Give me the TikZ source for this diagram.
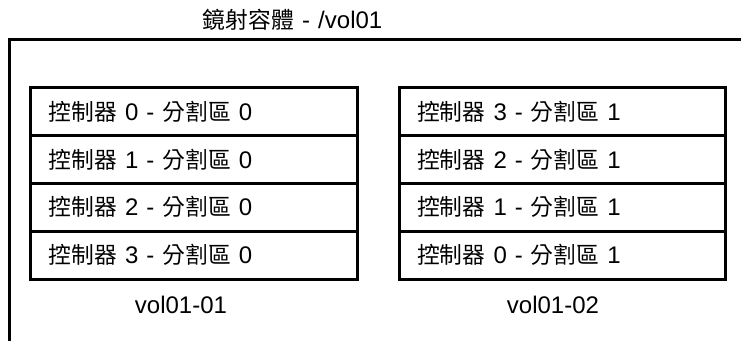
\documentclass[tikz,border=0pt]{standalone}
\usepackage{fontspec}
\setmainfont{Liberation Sans}
\newfontfamily\cjk[Scale=0.95]{Noto Sans CJK TC}
\protected\def\myfont{\fontsize{18}{21}\selectfont\spaceskip=0.34em plus 0.1em\relax}
\begin{document}
\begin{tikzpicture}[x=0.75pt,y=-0.75pt,
  txt/.style={font=\myfont},
  rowbox/.style={draw,line width=2.25pt,rectangle,outer sep=0pt,
    minimum width=245pt,minimum height=35.9pt,text width=218pt,
    inner xsep=13.5pt,inner ysep=0pt,align=left,txt},
  lbl/.style={inner sep=0pt,txt},
  frame/.style={line width=2.25pt,line join=miter}]
\useasboundingbox (0,0) rectangle (741,341);
\fill[white] (0,0) rectangle (741,341);
\coordinate (fa) at (9,345);
\coordinate (fb) at (9,40);
\coordinate (fc) at (745,40);
\draw[frame] (fa) -- (fb) -- (fc);
\node[lbl] (title) at (292.5,20) {{\cjk 鏡射容體} - /vol01};
% left stack
\node[rowbox] (l0) at (194,111.5) {{\cjk 控制器} 0 - {\cjk 分割區} 0};
\node[rowbox] (l1) at (194,159.4) {{\cjk 控制器} 1 - {\cjk 分割區} 0};
\node[rowbox] (l2) at (194,207.2) {{\cjk 控制器} 2 - {\cjk 分割區} 0};
\node[rowbox] (l3) at (194,255.1) {{\cjk 控制器} 3 - {\cjk 分割區} 0};
% right stack
\node[rowbox] (r0) at (562.5,111.5) {{\cjk 控制器} 3 - {\cjk 分割區} 1};
\node[rowbox] (r1) at (562.5,159.4) {{\cjk 控制器} 2 - {\cjk 分割區} 1};
\node[rowbox] (r2) at (562.5,207.2) {{\cjk 控制器} 1 - {\cjk 分割區} 1};
\node[rowbox] (r3) at (562.5,255.1) {{\cjk 控制器} 0 - {\cjk 分割區} 1};
\node[lbl] (lv) at (181,305) {vol01-01};
\node[lbl] (rv) at (553,305) {vol01-02};
\end{tikzpicture}
\end{document}
